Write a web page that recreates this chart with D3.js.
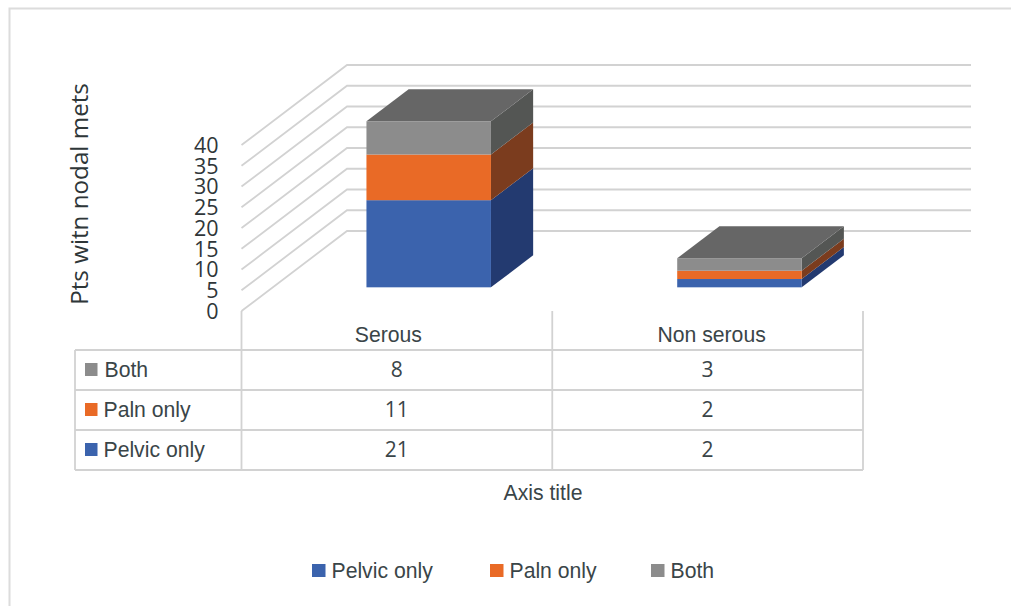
<!DOCTYPE html>
<html>
<head>
<meta charset="utf-8">
<script src="https://cdn.jsdelivr.net/npm/d3@7/dist/d3.min.js"></script>
<style>
  html, body { margin: 0; padding: 0; background: #fff; }
  svg { display: block; }
  text { font-family: "Liberation Sans", Arial, sans-serif; fill: #3a4548; }
</style>
</head>
<body>
<svg id="chart" width="1011" height="606"></svg>
<script>
// Chart data
const categories = ["Serous", "Non serous"];
const seriesNames = ["Pelvic only", "Paln only", "Both"];
const pelvicOnly = [21, 2];
const palnOnly = [11, 2];
const both = [8, 3];
const yTicks = [0, 5, 10, 15, 20, 25, 30, 35, 40];
const yTitle = "Pts witn nodal mets";
const xTitle = "Axis title";

// Face colours per series: front, side
const frontColors = ["#3b63ad", "#e96a26", "#8c8c8c"];
const sideColors = ["#233a70", "#7b3c1e", "#545654"];
const topColor = "#666666";
const gridColor = "#d2d2d2";
const numberFont = '"Open Sans", sans-serif';

const seriesValues = [pelvicOnly, palnOnly, both];
const svg = d3.select("#chart");

// Outer chart border (top and left edges)
svg.append("path").attr("d", "M9.5,606V8.5H1011")
  .attr("fill", "none").attr("stroke", "#dcdcdc").attr("stroke-width", 2);

// Oblique projection: depth 0 is the front of the floor, depth 1 the back wall
const xBand = d3.scaleBand().domain(categories).range([241.5, 863]);
const y = d3.scaleLinear().domain([0, 40]).range([311, 145]);
const depthX = d3.scaleLinear().domain([0, 1]).range([0, 105.5]);
const depthY = d3.scaleLinear().domain([0, 1]).range([0, -80]);
const rightEnd = 971;

// Gridlines run up the side wall and then along the back wall
const grid = svg.append("g").attr("fill", "none").attr("stroke", gridColor).attr("stroke-width", 1.8);
const gridLine = d3.line();
yTicks.forEach(t => {
  const x0 = xBand.range()[0];
  grid.append("path").attr("d", gridLine([
    [x0, y(t)],
    [x0 + depthX(1), y(t) + depthY(1)],
    [rightEnd, y(t) + depthY(1)]
  ]));
});

// Stacked 3D bars
const barWidth = 124.5;
const depthFront = 0.296, depthBack = 0.696;
const stackGen = d3.stack().keys(d3.range(seriesNames.length)).value((row, k) => row[k]);
const rows = categories.map((_, i) => seriesValues.map(s => s[i]));
const stacks = stackGen(rows);
const poly = pts => "M" + pts.map(p => p.join(",")).join("L") + "Z";

categories.forEach((cat, i) => {
  const cx = xBand(cat) + xBand.bandwidth() / 2;
  const left = cx - barWidth / 2 + depthX(depthFront) + 0.6;
  const right = left + barWidth;
  const frontOff = depthY(depthFront);
  const sideDx = depthX(depthBack) - depthX(depthFront);
  const sideDy = depthY(depthBack) - depthY(depthFront);
  const g = svg.append("g");
  stacks.forEach((layer, k) => {
    const y0 = y(layer[i][0]) + frontOff;
    const y1 = y(layer[i][1]) + frontOff;
    g.append("path").attr("fill", sideColors[k])
      .attr("d", poly([[right, y0], [right + sideDx, y0 + sideDy], [right + sideDx, y1 + sideDy], [right, y1]]));
    g.append("rect").attr("x", left).attr("y", y1)
      .attr("width", barWidth).attr("height", y0 - y1).attr("fill", frontColors[k]);
  });
  const topY = y(stacks[stacks.length - 1][i][1]) + frontOff;
  g.append("path").attr("fill", topColor)
    .attr("d", poly([[left, topY], [left + sideDx, topY + sideDy], [right + sideDx, topY + sideDy], [right, topY]]));
});

// Value axis labels
const axis = d3.axisLeft(y).tickValues(yTicks).tickSize(0).tickPadding(0);
const axisG = svg.append("g").attr("transform", "translate(218.5,0.5)").call(axis);
axisG.select(".domain").remove();
axisG.selectAll("text")
  .style("font-family", numberFont).style("font-size", "21.5px").style("fill", "#2f3639");

svg.append("text")
  .attr("transform", "translate(87.5,194) rotate(-90)")
  .attr("text-anchor", "middle")
  .style("font-family", numberFont).style("font-size", "24.2px").style("fill", "#2e3638")
  .text(yTitle);

// Data table under the plot
const tableLeft = 75, tableRight = xBand.range()[1], tableTop = 350, rowH = 40;
const rowOrder = [2, 1, 0];
const table = svg.append("g").attr("stroke", gridColor).attr("stroke-width", 1.8).attr("fill", "none");
d3.range(rowOrder.length + 1).forEach(r => {
  table.append("line").attr("x1", tableLeft).attr("x2", tableRight)
    .attr("y1", tableTop + r * rowH).attr("y2", tableTop + r * rowH);
});
const tableBottom = tableTop + rowOrder.length * rowH;
table.append("line").attr("x1", tableLeft).attr("x2", tableLeft).attr("y1", tableTop).attr("y2", tableBottom);
[xBand.range()[0], xBand.range()[0] + xBand.step(), tableRight].forEach(vx => {
  table.append("line").attr("x1", vx).attr("x2", vx).attr("y1", y(0)).attr("y2", tableBottom);
});

const fontTable = 21.2;
const headerNudge = [-8.5, 4];
categories.forEach((cat, i) => {
  svg.append("text").attr("x", xBand(cat) + xBand.bandwidth() / 2 + headerNudge[i]).attr("y", 342)
    .attr("text-anchor", "middle").style("font-size", fontTable + "px").text(cat);
});
rowOrder.forEach((s, r) => {
  const rowMid = tableTop + r * rowH + rowH / 2;
  svg.append("rect").attr("x", 85).attr("y", rowMid - 7).attr("width", 12.5).attr("height", 13).attr("fill", frontColors[s]);
  svg.append("text").attr("x", s === 2 ? 104.5 : 103.5).attr("y", rowMid + 7).style("font-size", fontTable + "px").text(seriesNames[s]);
  categories.forEach((cat, i) => {
    svg.append("text").attr("x", xBand(cat) + xBand.bandwidth() / 2).attr("y", rowMid + 7)
      .attr("text-anchor", "middle").style("font-family", numberFont).style("font-size", "21px").text(seriesValues[s][i]);
  });
});

svg.append("text").attr("x", 543).attr("y", 500).attr("text-anchor", "middle")
  .style("font-size", fontTable + "px").text(xTitle);

// Legend
const legendX = [312, 490, 651];
seriesNames.forEach((name, s) => {
  svg.append("rect").attr("x", legendX[s]).attr("y", 564).attr("width", 13.5).attr("height", 13).attr("fill", frontColors[s]);
  svg.append("text").attr("x", legendX[s] + 19.5).attr("y", 578).style("font-size", fontTable + "px").text(name);
});
</script>
</body>
</html>
